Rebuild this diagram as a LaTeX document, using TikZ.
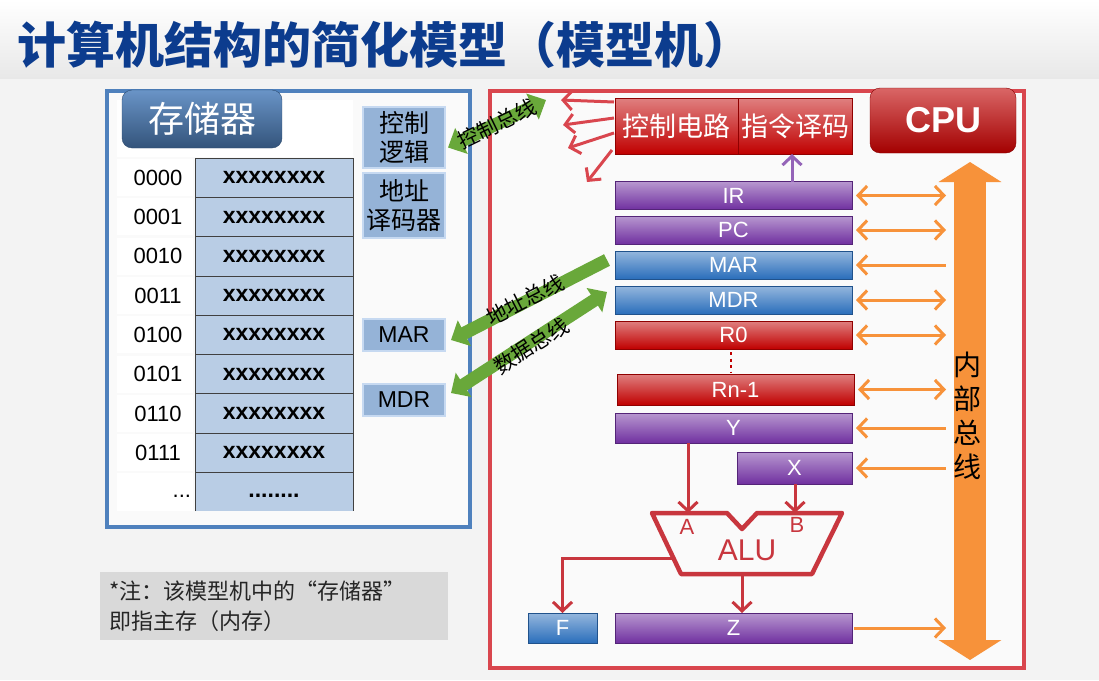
\documentclass[tikz,border=0pt]{standalone}
\usepackage{fontspec}
\setmainfont{Liberation Sans}
\newfontfamily\cjk{Noto Sans CJK SC}
\usetikzlibrary{arrows.meta,calc}

\definecolor{pagebg}{HTML}{F3F3F3}
\definecolor{titleblue}{HTML}{0C3C8E}
\definecolor{memblue}{HTML}{4F81BD}
\definecolor{cellfill}{HTML}{B9CDE5}
\definecolor{sidefill}{HTML}{95B3D7}
\definecolor{sideedge}{HTML}{C6D9F1}
\definecolor{framered}{HTML}{D9464E}
\definecolor{regred}{HTML}{C00000}
\definecolor{regpurple}{HTML}{7030A0}
\definecolor{regblue}{HTML}{2A6EBB}
\definecolor{busorange}{HTML}{F7923A}
\definecolor{busgreen}{HTML}{69A83A}
\definecolor{alured}{HTML}{C8363E}
\definecolor{notegray}{HTML}{D9D9D9}

\tikzset{
  chv/.tip={Straight Barb[length=9pt,width=19pt]},
  gtip/.tip={Triangle[length=15pt,width=28pt]},
  reg/.style={draw=#1!75!black, line width=0.8pt, top color=#1!50!white,
    bottom color=#1, text=white, font=\fontsize{22}{24}\selectfont,
    minimum width=237pt, minimum height=28pt},
  cell/.style={draw=black!75, line width=0.8pt, fill=cellfill,
    minimum width=158pt, minimum height=39.3pt,
    font=\bfseries\fontsize{23}{25}\selectfont},
  addr/.style={font=\fontsize{22}{24}\selectfont},
  sidebox/.style={draw=sideedge, line width=2pt, fill=sidefill,
    minimum width=82pt, align=center},
  redline/.style={draw=framered, line width=3pt, -chv},
  alarrow/.style={draw=alured, line width=3pt, -chv},
  obus/.style={draw=busorange, line width=3pt},
  gbus/.style={draw=busgreen, line width=13pt},
  glabel/.style={font=\cjk\fontsize{21}{23}\selectfont, sloped},
}

\begin{document}
\begin{tikzpicture}[x=1pt,y=-1pt, every node/.style={inner sep=0pt, outer sep=0pt}]
\useasboundingbox (0,0) rectangle (1099,680);

% page background and title band
\fill[pagebg] (0,0) rectangle (1099,680);
\shade[top color=white, bottom color=black!9] (0,0) rectangle (1099,78);
\node[anchor=west, text=titleblue, font=\cjk\bfseries\fontsize{49}{52}\selectfont]
  (title) at (17,45) {计算机结构的简化模型（模型机）};

% ---------------- memory ----------------
\draw[memblue, line width=3.5pt, fill=black!2] (107,91) rectangle (470,527);
\fill[white] (117,100) rectangle (353,157);
\node[draw=memblue!60!black, top color=memblue!85!white, bottom color=memblue!65!black,
  rounded corners=10pt, minimum width=160pt, minimum height=58pt, text=white,
  font=\cjk\fontsize{36}{38}\selectfont] (memlabel) at (202,119) {存储器};

\foreach \a [count=\i from 0] in {0000,0001,0010,0011,0100,0101,0110,0111} {
  \pgfmathsetmacro\yc{177.65+39.3*\i}
  \fill[white] (117,\yc-18.5) rectangle (193,\yc+18.5);
  \node[addr] (a\i) at (158,\yc) {\a};
  \node[cell] (m\i) at (274,\yc) {xxxxxxxx};
}
\fill[white] (117,473.4) rectangle (193,511);
\fill[cellfill] (195,472.4) rectangle (353,511);
\draw[black!75, line width=0.8pt] (195,511) -- (195,472.4) -- (353,472.4) -- (353,511);
\node[addr, anchor=east] (adots) at (191,496) {...};
\node[font=\bfseries\fontsize{23}{25}\selectfont] (mdots) at (274,496) {........};

\node[sidebox, minimum height=61pt, font=\cjk\fontsize{25}{29}\selectfont]
  (slogic) at (404,137.5) {控制\\逻辑};
\node[sidebox, minimum height=65pt, font=\cjk\fontsize{25}{29}\selectfont]
  (sdec) at (404,205.5) {地址\\译码器};
\node[sidebox, minimum height=32pt, font=\fontsize{23}{25}\selectfont]
  (smar) at (404,335) {MAR};
\node[sidebox, minimum height=32pt, font=\fontsize{23}{25}\selectfont]
  (smdr) at (404,400) {MDR};

% ---------------- CPU ----------------
\draw[framered, line width=3.5pt, fill=black!2] (490,91) rectangle (1024,668);
\node[draw=regred!70!black, top color=regred!60!white, bottom color=regred!85!black,
  rounded corners=10pt, minimum width=146pt, minimum height=65pt, text=white,
  font=\bfseries\fontsize{36}{38}\selectfont] (cpu) at (943,120.5) {CPU};

\node[reg=regred, minimum width=123pt, minimum height=56pt,
  font=\cjk\fontsize{27}{29}\selectfont] (ctrl) at (676.5,126) {控制电路};
\node[reg=regred, minimum width=114pt, minimum height=56pt,
  font=\cjk\fontsize{27}{29}\selectfont] (dec) at (795,126) {指令译码};

\node[reg=regpurple] (ir) at (733.5,195.5) {IR};
\node[reg=regpurple] (pc) at (733.5,230) {PC};
\node[reg=regblue] (mar) at (733.5,265) {MAR};
\node[reg=regblue] (mdr) at (733.5,300) {MDR};
\node[reg=regred] (r0) at (733.5,335) {R0};
\node[reg=regred, minimum height=31pt] (rn) at (735.5,389.5) {Rn-1};
\node[reg=regpurple, minimum height=30pt] (yreg) at (733.5,428) {Y};
\node[reg=regpurple, minimum width=115pt, minimum height=32pt] (xreg) at (794.5,468) {X};
\node[reg=regpurple, minimum height=30pt] (zreg) at (733.5,628) {Z};
\node[reg=regblue, minimum width=69pt, minimum height=30pt] (freg) at (562.5,628) {F};

% R0 ... Rn-1
\coordinate (dotx) at (731,0);
\draw[regred, line width=2.5pt, dash pattern=on 3pt off 3.5pt]
  ($(r0.south -| dotx)+(0,3)$) -- ($(rn.north -| dotx)+(0,-2)$);

% control signals leaving the control circuit
\coordinate (c1) at (561,100);
\coordinate (c2) at (563,125);
\coordinate (c3) at (568,148);
\coordinate (c4) at (587,182);
\draw[redline] ($(ctrl.west)+(-1,-24)$) -- (c1);
\draw[redline] ($(ctrl.west)+(-1,-8)$) -- (c2);
\draw[redline] ($(ctrl.west)+(-1,7)$) -- (c3);
\draw[redline] ($(ctrl.west)+(-3,24)$) -- (c4);

% IR to instruction decoder
\coordinate (dx) at (792,0);
\draw[draw=regpurple!75!white, line width=3pt, -chv] (ir.north -| dx) -- (dec.south -| dx);

% internal bus
\coordinate (bustop) at (970,162);
\coordinate (busbot) at (970,660);
\draw[busorange, line width=32pt,
  {Triangle[length=20pt,width=62pt]}-{Triangle[length=20pt,width=62pt]}] (bustop) -- (busbot);
\node[font=\cjk\fontsize{28}{34}\selectfont, align=center] (buslabel) at (967,416) {内\\部\\总\\线};

\coordinate (busx) at (946,0);
\foreach \r in {ir,pc,mdr,r0,rn}
  \draw[obus, chv-chv] ($(\r.east)+(4,0)$) -- (\r.east -| busx);
\foreach \r in {mar,yreg,xreg}
  \draw[obus, chv-] ($(\r.east)+(4,0)$) -- (\r.east -| busx);
\draw[obus, -chv] ($(zreg.east)+(2,0)$) -- (zreg.east -| busx);

% ALU
\coordinate (aluA) at (688,513);
\coordinate (aluB) at (795,513);
\coordinate (aluOut) at (742,574);
\coordinate (aluF) at (673,558);
\draw[alured, line width=4.5pt, line join=round]
  (652,513) -- (727,513) -- (742,529) -- (757,513) -- (842,513)
  -- (812,574) -- (681,574) -- cycle;
\node[text=alured, font=\fontsize{22}{24}\selectfont] (labA) at (687,527) {A};
\node[text=alured, font=\fontsize{22}{24}\selectfont] (labB) at (797,525) {B};
\node[text=alured, font=\fontsize{30}{32}\selectfont] (labALU) at (747,550) {ALU};

\draw[alarrow] (yreg.south -| aluA) -- (aluA);
\draw[alarrow] (xreg.south -| aluB) -- (aluB);
\draw[alarrow] (aluOut) -- (zreg.north -| aluOut);
\draw[alarrow] (aluF) -| (freg.north);

% system buses between memory and CPU
\coordinate (cbus) at (546,100);
\draw[gbus, gtip-gtip] ($(slogic.east)+(3,10)$) -- (cbus)
  node[glabel, midway] {控制总线};
\draw[gbus, -gtip] ($(mar.west)+(-8,-5)$) -- ($(smar.east)+(6,5)$)
  node[glabel, pos=0.52, yshift=2pt] {地址总线};
\draw[gbus, gtip-gtip] ($(mdr.west)+(-8,-8)$) -- ($(smdr.east)+(6,-7)$)
  node[glabel, pos=0.5, yshift=-4pt] {数据总线};

% note
\node[fill=notegray, minimum width=348pt, minimum height=68pt, text width=330pt,
  inner xsep=9pt, align=left, font=\cjk\fontsize{22}{30}\selectfont, text=black!85]
  (note) at (274,606) {*注：该模型机中的“存储器”\\即指主存（内存）};
\end{tikzpicture}
\end{document}
